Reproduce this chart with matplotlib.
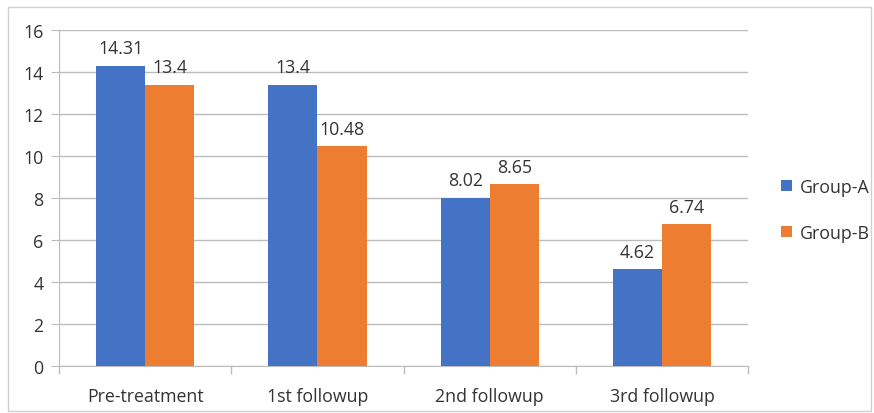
import matplotlib.pyplot as plt
import numpy as np
from matplotlib.patches import Rectangle

plt.rcParams['font.family'] = ['Open Sans', 'DejaVu Sans']

stages = ["Pre-treatment", "1st followup", "2nd followup", "3rd followup"]
group_a = [14.31, 13.4, 8.02, 4.62]
group_b = [13.4, 10.48, 8.65, 6.74]

blue = '#4472C4'
orange = '#ED7D31'
grid = '#BCBCBC'
text = '#333333'
fs = 12.8

fig = plt.figure(figsize=(8.74, 4.14), dpi=100)
ax = fig.add_axes([0.0675, 0.1135, 0.7885, 0.8115])

# light frame round the whole chart
fig.patches.append(Rectangle((0.009, 0.005), 0.988, 0.975, transform=fig.transFigure,
                             fill=False, edgecolor='#D0D0D0', linewidth=1))

x = np.arange(len(stages))
w = 0.285
bars_a = ax.bar(x - w / 2, group_a, w, color=blue, label="Group-A", zorder=3)
bars_b = ax.bar(x + w / 2, group_b, w, color=orange, label="Group-B", zorder=3)

for bars, vals in ((bars_a, group_a), (bars_b, group_b)):
    for b, v in zip(bars, vals):
        ax.annotate(f"{v:g}", (b.get_x() + b.get_width() / 2, v), xytext=(0, 6),
                    textcoords='offset points', ha='center', va='bottom',
                    fontsize=fs, color=text)

ax.set_xlim(-0.5, len(stages) - 0.5)
ax.set_ylim(0, 16)
ax.set_yticks(np.arange(0, 17, 2))
ax.yaxis.grid(True, color=grid, linewidth=1, zorder=0)
ax.set_axisbelow(True)

ax.set_xticks(x)
ax.set_xticklabels(stages, fontsize=fs, color=text)
ax.tick_params(axis='x', length=0, pad=15)
# category boundary ticks below the axis
ax.set_xticks(np.arange(-0.5, len(stages)), minor=True)
ax.tick_params(axis='x', which='minor', length=6, color=grid, width=1)
ax.tick_params(axis='y', length=6, color=grid, labelsize=fs, labelcolor=text, pad=5)

for s in ('top', 'right'):
    ax.spines[s].set_visible(False)
for s in ('left', 'bottom'):
    ax.spines[s].set_color(grid)

ax.legend(loc='center left', bbox_to_anchor=(1.025, 0.465), frameon=False,
          fontsize=fs, handlelength=0.6, handleheight=0.6, labelspacing=1.55,
          handletextpad=0.45, labelcolor=text)

fig.savefig('out.png', dpi=100)
